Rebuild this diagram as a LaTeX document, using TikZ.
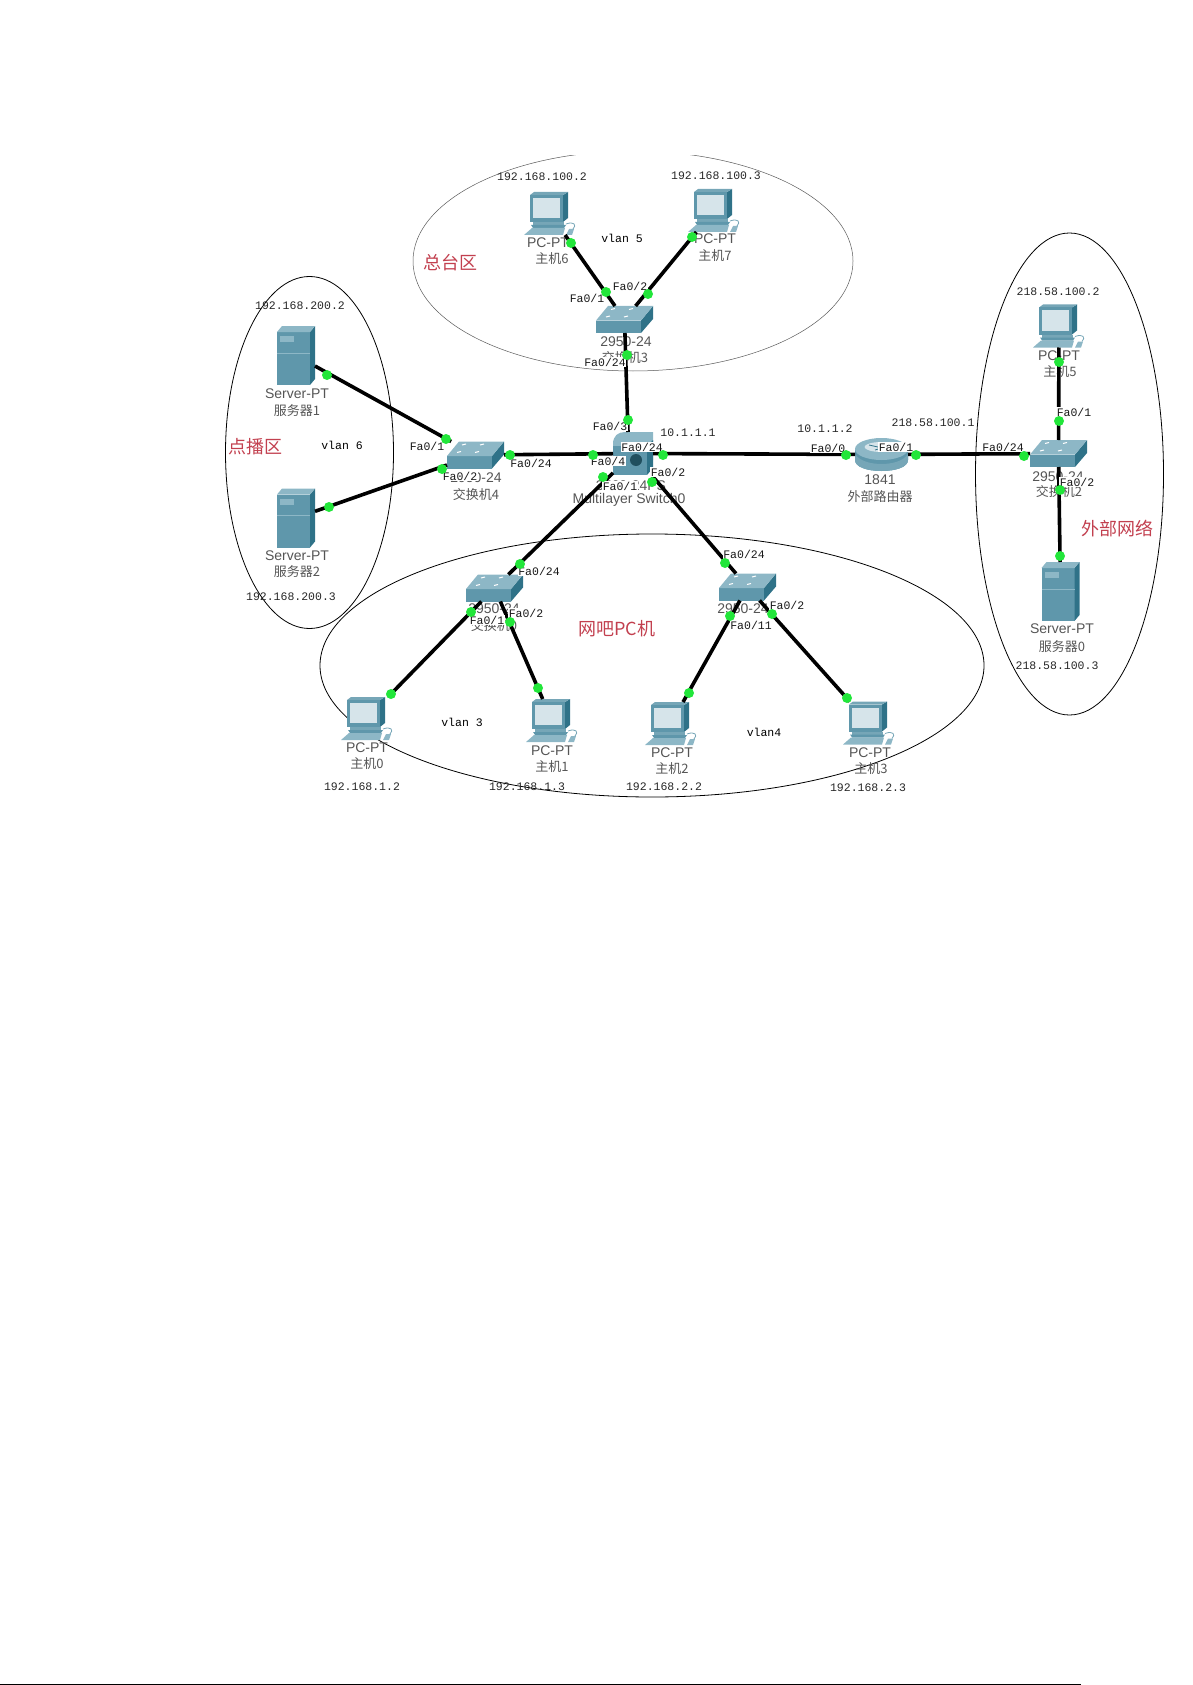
\documentclass[tikz,border=0pt]{standalone}
\usepackage{fontspec}
\setmainfont{Liberation Sans}
\newfontfamily\cjk{Noto Sans CJK SC}
\newfontfamily\monof{Liberation Mono}
\usetikzlibrary{shapes.geometric}
\definecolor{tFront}{HTML}{5F97AB}
\definecolor{tSide}{HTML}{2F7288}
\definecolor{tTop}{HTML}{8DB7C6}
\definecolor{tPale}{HTML}{D6E4EA}
\definecolor{tMid}{HTML}{76A6B7}
\definecolor{portg}{HTML}{22E63A}
\definecolor{redl}{HTML}{C2404F}
\definecolor{devt}{HTML}{555555}
\tikzset{
  pcnode/.style={rectangle,inner sep=0pt,outer sep=0pt,minimum width=52pt,minimum height=43pt},
  srvnode/.style={rectangle,inner sep=0pt,outer sep=0pt,minimum width=38pt,minimum height=59pt},
  swnode/.style={rectangle,inner sep=0pt,outer sep=0pt,minimum width=57pt,minimum height=27pt},
  rtnode/.style={rectangle,inner sep=0pt,outer sep=0pt,minimum width=53pt,minimum height=33pt},
  mlnode/.style={rectangle,inner sep=0pt,outer sep=0pt,minimum width=40pt,minimum height=43pt},
  zone/.style={ellipse,draw=black,line width=0.8pt,inner sep=0pt},
  link/.style={line width=3.6pt,draw=black},
  portdot/.style={circle,fill=portg,inner sep=0pt,minimum size=10pt},
  port/.style={font=\monof\fontsize{11.5}{12}\selectfont,text=black!90,fill=white,inner sep=0.3pt},
  ip/.style={font=\monof\fontsize{11.5}{12}\selectfont,text=black!85,inner sep=0pt},
  vlanl/.style={font=\monof\fontsize{11.5}{12}\selectfont,text=black,inner sep=0pt},
  dev/.style={font=\fontsize{14}{15}\selectfont,text=devt,inner sep=0pt},
  devc/.style={font=\cjk\fontsize{13}{14}\selectfont,text=devt,inner sep=0pt},
  redt/.style={font=\cjk\fontsize{18}{19}\selectfont,text=redl,inner sep=0pt},
  pcicon/.pic={
    \fill[tSide] (39,3)--(44,0)--(44,26)--(39,30)--cycle;
    \fill[tMid] (6,3)--(10,0)--(44,0)--(39,3)--cycle;
    \fill[tFront] (6,3) rectangle (39,30);
    \fill[tPale] (9,6) rectangle (36,26);
    \fill[tMid] (9,30) rectangle (40,33);
    \fill[tFront] (7,33)--(42,33)--(40,36)--(9,36)--cycle;
    \fill[tTop] (0,43)--(8,36)--(41,36)--(39,43)--cycle;
    \draw[tMid,line width=0.8pt] (42,32) .. controls (50,29) and (53,33) .. (49,37);
    \fill[tTop] (42,43)--(45,37)--(50,37)--(48,43)--cycle;
  },
  srvicon/.pic={
    \fill[tFront] (0,6) rectangle (33,59);
    \fill[tSide] (33,6)--(38,0)--(38,53)--(33,59)--cycle;
    \fill[tTop] (0,6)--(5,0)--(38,0)--(33,6)--cycle;
    \fill[tTop] (3,10) rectangle (17,16);
    \draw[tTop,line width=0.5pt] (0,27)--(33,27);
  },
  swicon/.pic={
    \fill[tFront] (0,14.5) rectangle (45,27);
    \fill[tSide] (45,14.5)--(57,0)--(57,13)--(45,27)--cycle;
    \fill[tTop] (0,14.5)--(12,0)--(57,0)--(45,14.5)--cycle;
    \foreach \p in {(15,3.5),(33,3.5),(10,11),(28,11)}
      \draw[white,line width=1pt] \p -- ++(4,-1);
  },
  rticon/.pic={
    \fill[tFront] (0,11) -- (0,22) .. controls (0,29) and (12,33) .. (26.5,33) .. controls (41,33) and (53,29) .. (53,22) -- (53,11) -- cycle;
    \fill[tMid] (0,16) .. controls (5,24) and (18,26) .. (26.5,26) .. controls (35,26) and (48,24) .. (53,16) -- (53,22) .. controls (53,29) and (41,33) .. (26.5,33) .. controls (12,33) and (0,29) .. (0,22) -- cycle;
    \fill[tTop] (26.5,11) ellipse [x radius=26.5,y radius=11];
    \fill[tPale] (26.5,9) ellipse [x radius=17,y radius=5];
    \draw[tSide,line width=0.8pt] (14,7)--(36,12) (20,12)--(40,6);
  },
  mlicon/.pic={
    \fill[tTop] (0,12) .. controls (0,4) and (5,0) .. (12,0) -- (40,0) -- (40,28) -- (0,28) -- cycle;
    \fill[tFront] (0,14) rectangle (34,43);
    \fill[tSide] (34,14)--(40,8)--(40,36)--(34,43)--cycle;
    \fill[tSide!70!black] (23,28) circle (6pt);
  },
}
\begin{document}
\begin{tikzpicture}[x=1pt,y=-1pt]
\useasboundingbox (0,0) rectangle (1192,1685);
% zones
\node[zone,minimum width=168pt,minimum height=352pt] (zoneA) at (309.5,452.5) {};
\node[zone,draw=black!65,line width=0.5pt,minimum width=440pt,minimum height=220pt] (zoneB) at (633,261) {};
\node[zone,minimum width=188pt,minimum height=482pt] (zoneC) at (1069.5,474) {};
\node[zone,minimum width=664pt,minimum height=263pt] (zoneD) at (652,665.5) {};
\fill[white] (560,140) rectangle (710,155);
% device frames
\node[pcnode] (pc0) at (367,718.5) {};
\node[pcnode] (pc1) at (552,720.5) {};
\node[pcnode] (pc2) at (671,723.5) {};
\node[pcnode] (pc3) at (869,723) {};
\node[pcnode] (pc5) at (1059,326) {};
\node[pcnode] (pc6) at (550,213.5) {};
\node[pcnode] (pc7) at (714,210.5) {};
\node[srvnode] (srv0) at (1060.5,591.5) {};
\node[srvnode] (srv1) at (296,355.5) {};
\node[srvnode] (srv2) at (296,518) {};
\node[swnode] (sw0) at (494.5,588) {};
\node[swnode] (sw1) at (747.5,587) {};
\node[swnode] (sw2) at (1058.5,453.5) {};
\node[swnode] (sw3) at (624.5,319.5) {};
\node[swnode] (sw4) at (475.5,455) {};
\node[rtnode] (rt) at (881.5,454.5) {};
\node[mlnode] (ml) at (633,453.5) {};
\coordinate (mltop) at (628,432);
% icons
\pic at (pc0.north west) {pcicon};
\pic at (pc1.north west) {pcicon};
\pic at (pc2.north west) {pcicon};
\pic at (pc3.north west) {pcicon};
\pic at (pc5.north west) {pcicon};
\pic at (pc6.north west) {pcicon};
\pic at (pc7.north west) {pcicon};
\pic at (srv0.north west) {srvicon};
\pic at (srv1.north west) {srvicon};
\pic at (srv2.north west) {srvicon};
\pic at (sw0.north west) {swicon};
\pic at (sw1.north west) {swicon};
\pic at (sw2.north west) {swicon};
\pic at (sw3.north west) {swicon};
\pic at (sw4.north west) {swicon};
\pic at (rt.north west) {rticon};
\pic at (ml.north west) {mlicon};
% device labels
\node[dev] (t01) at (297,394) {Server-PT};
\node[devc] (t02) at (297,411) {服务器1};
\node[dev] (t03) at (297,556) {Server-PT};
\node[devc] (t04) at (297,572) {服务器2};
\node[dev] (t05) at (1062,629) {Server-PT};
\node[devc] (t06) at (1062,647) {服务器0};
\node[dev] (t07) at (548,243) {PC-PT};
\node[devc] (t08) at (552,259) {主机6};
\node[dev] (t09) at (715,239) {PC-PT};
\node[devc] (t10) at (715,256) {主机7};
\node[dev] (t11) at (1059,356) {PC-PT};
\node[devc] (t12) at (1060,372) {主机5};
\node[dev] (t13) at (367,748) {PC-PT};
\node[devc] (t14) at (367,764) {主机0};
\node[dev] (t15) at (552,751) {PC-PT};
\node[devc] (t16) at (552,767) {主机1};
\node[dev] (t17) at (672,753) {PC-PT};
\node[devc] (t18) at (672,769) {主机2};
\node[dev] (t19) at (870,753) {PC-PT};
\node[devc] (t20) at (871,769) {主机3};
\node[dev] (t21) at (626,342) {2950-24};
\node[devc] (t22) at (625,358) {交换机3};
\node[dev] (t23) at (476,478) {2950-24};
\node[devc] (t24) at (476,495) {交换机4};
\node[dev] (t25) at (494,609) {2950-24};
\node[devc] (t26) at (494,626) {交换机0};
\node[dev] (t27) at (743,609) {2950-24};
\node[dev] (t28) at (1058,477) {2950-24};
\node[devc] (t29) at (1059,492) {交换机2};
\node[dev] (t30) at (631,486) {3560-24PS};
\node[dev] (t31) at (629,500) {Multilayer Switch0};
\node[dev] (t32) at (880,480) {1841};
\node[devc] (t33) at (880,497) {外部路由器};
% addresses
\node[ip] (a01) at (300,306) {192.168.200.2};
\node[ip] (a02) at (291,597) {192.168.200.3};
\node[ip] (a03) at (542,177) {192.168.100.2};
\node[ip] (a04) at (716,176) {192.168.100.3};
\node[ip] (a05) at (688,433) {10.1.1.1};
\node[ip] (a06) at (825,429) {10.1.1.2};
\node[ip] (a07) at (933,423) {218.58.100.1};
\node[ip] (a08) at (1058,292) {218.58.100.2};
\node[ip] (a09) at (1057,666) {218.58.100.3};
\node[ip] (a10) at (362,787) {192.168.1.2};
\node[ip] (a11) at (527,787) {192.168.1.3};
\node[ip] (a12) at (664,787) {192.168.2.2};
\node[ip] (a13) at (868,788) {192.168.2.3};
% vlans and areas
\node[vlanl] (v6) at (342,445) {vlan 6};
\node[vlanl] (v5) at (622,238) {vlan 5};
\node[vlanl] (v3) at (462,722) {vlan 3};
\node[vlanl] (v4) at (764,732) {vlan4};
\node[redt] (r1) at (255,447) {点播区};
\node[redt] (r2) at (450,263) {总台区};
\node[redt] (r3) at (617,629) {网吧PC机};
\node[redt] (r4) at (1117,529) {外部网络};
% links
\draw[link] (srv1) -- (sw4);
\draw[link] (srv2) -- (sw4);
\draw[link] (sw4) -- (ml);
\draw[link] (pc6) -- (sw3);
\draw[link] (pc7) -- (sw3);
\draw[link] (sw3) -- (mltop);
\draw[link] (ml) -- (rt);
\draw[link] (rt) -- (sw2);
\draw[link] (pc5) -- (sw2);
\draw[link] (sw2) -- (srv0);
\draw[link] (ml) -- (sw0);
\draw[link] (ml) -- (sw1);
\draw[link] (sw0) -- (pc0);
\draw[link] (sw0) -- (pc1);
\draw[link] (sw1) -- (pc2);
\draw[link] (sw1) -- (pc3);
% port labels
\node[port] (p01) at (427,446) {Fa0/1};
\node[port] (p02) at (460,476) {Fa0/2};
\node[port] (p03) at (531,463) {Fa0/24};
\node[port] (p04) at (608,461) {Fa0/4};
\node[port] (p05) at (610,426) {Fa0/3};
\node[port] (p06) at (642,447) {Fa0/24};
\node[port] (p07) at (668,472) {Fa0/2};
\node[port] (p08) at (620,486) {Fa0/1};
\node[port] (p09) at (587,298) {Fa0/1};
\node[port] (p10) at (630,286) {Fa0/2};
\node[port] (p11) at (605,362) {Fa0/24};
\node[port] (p12) at (828,448) {Fa0/0};
\node[port] (p13) at (896,447) {Fa0/1};
\node[port] (p14) at (1003,447) {Fa0/24};
\node[port] (p15) at (1074,412) {Fa0/1};
\node[port] (p16) at (1077,482) {Fa0/2};
\node[port] (p17) at (539,571) {Fa0/24};
\node[port] (p18) at (526,613) {Fa0/2};
\node[port] (p19) at (487,620) {Fa0/1};
\node[port] (p20) at (744,554) {Fa0/24};
\node[port] (p21) at (787,605) {Fa0/2};
\node[port] (p22) at (751,625) {Fa0/11};
% port lights
\node[portdot] (d01) at (327,375) {};
\node[portdot] (d02) at (446,439) {};
\node[portdot] (d03) at (329,507) {};
\node[portdot] (d04) at (442,469) {};
\node[portdot] (d05) at (510,455) {};
\node[portdot] (d06) at (593,455) {};
\node[portdot] (d07) at (571,243) {};
\node[portdot] (d08) at (606,292) {};
\node[portdot] (d09) at (692,237) {};
\node[portdot] (d10) at (648,294) {};
\node[portdot] (d11) at (627,355) {};
\node[portdot] (d12) at (628,420) {};
\node[portdot] (d13) at (663,455) {};
\node[portdot] (d14) at (846,455) {};
\node[portdot] (d15) at (916,455) {};
\node[portdot] (d16) at (1024,456) {};
\node[portdot] (d17) at (1059,362) {};
\node[portdot] (d18) at (1059,421) {};
\node[portdot] (d19) at (1060,490) {};
\node[portdot] (d20) at (1060,556) {};
\node[portdot] (d21) at (603,477) {};
\node[portdot] (d22) at (520,564) {};
\node[portdot] (d23) at (471,612) {};
\node[portdot] (d24) at (391,694) {};
\node[portdot] (d25) at (510,622) {};
\node[portdot] (d26) at (538,688) {};
\node[portdot] (d27) at (652,482) {};
\node[portdot] (d28) at (725,563) {};
\node[portdot] (d29) at (730,616) {};
\node[portdot] (d30) at (689,693) {};
\node[portdot] (d31) at (772,614) {};
\node[portdot] (d32) at (847,698) {};
% page edge
\fill[black] (0,1683.5) rectangle (1081,1685);
\end{tikzpicture}
\end{document}
